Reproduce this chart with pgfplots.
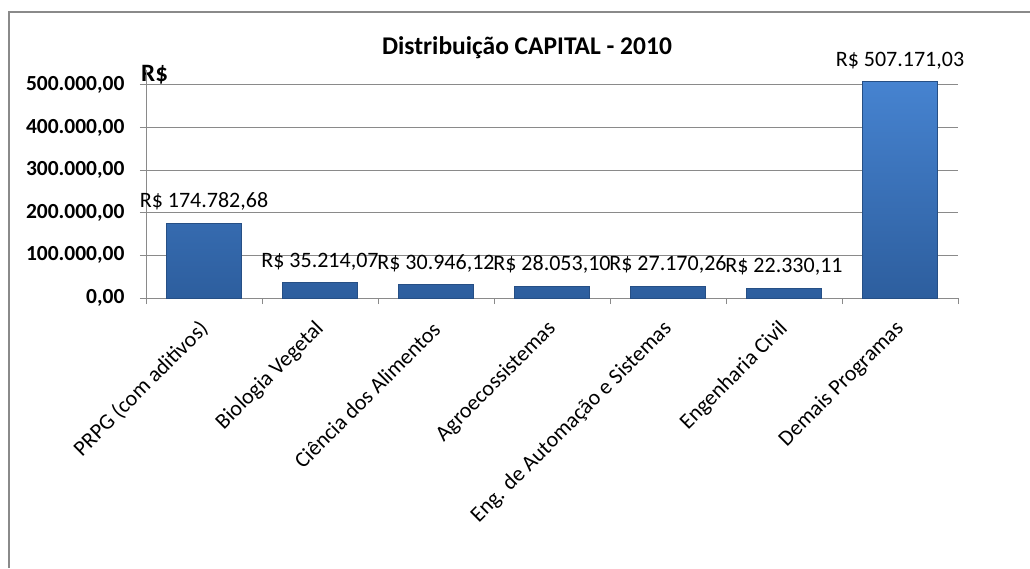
\documentclass[border=0pt]{standalone}
\usepackage{pgfplots}
\pgfplotsset{compat=1.18}
\usepackage{fontspec}
\setmainfont{Carlito}
\definecolor{gridgray}{HTML}{8A8A8A}
\definecolor{bartop}{HTML}{4683D0}
\definecolor{barbot}{HTML}{2D5E9E}
\definecolor{baredge}{HTML}{264F85}
\begin{document}
\begin{tikzpicture}
\useasboundingbox (0,0) rectangle (1030pt,568pt);
\fill[white] (0,0) rectangle (1030pt,568pt);
\draw[gridgray, line width=2pt] (9pt,0) -- (9pt,556pt) -- (1030pt,556pt);
\node[anchor=base, font=\fontsize{25.5}{29}\selectfont\bfseries] at (527pt,513pt) {Distribuição CAPITAL - 2010};
\node[anchor=base west, inner sep=0pt, font=\fontsize{25}{29}\selectfont\bfseries] at (141pt,486pt) {R\$};
\begin{axis}[
  at={(146pt,270pt)}, anchor=south west,
  scale only axis, width=812pt, height=228pt,
  xmin=-0.5, xmax=6.5, ymin=0, ymax=535000,
  axis x line=bottom, axis y line=left,
  axis line style={-, gridgray, line width=1pt},
  ymajorgrids, grid style={gridgray, line width=0.9pt},
  ytick={0,100000,...,500000},
  scaled y ticks=false,
  /pgf/number format/assume math mode=true,
  yticklabel={\pgfmathprintnumber[fixed, fixed zerofill, precision=2, use comma, 1000 sep={.}, assume math mode=true]{\tick}},
  yticklabel style={font=\fontsize{21.5}{24}\selectfont\bfseries, xshift=-12pt},
  tick align=outside,
  major tick length=6pt, minor tick length=6pt,
  tick style={gridgray, line width=1pt},
  xtick={0,1,2,3,4,5,6},
  x tick style={draw=none},
  minor xtick={-0.5,0.5,1.5,2.5,3.5,4.5,5.5,6.5},
  minor x tick style={draw=gridgray, line width=1pt},
  xticklabels={PRPG (com aditivos),Biologia Vegetal,Ciência dos Alimentos,Agroecossistemas,Eng. de Automação e Sistemas,Engenharia Civil,Demais Programas},
  xticklabel style={font=\fontsize{22}{25}\selectfont, yshift=-20pt, xshift=2pt, rotate=45, anchor=east, inner sep=2pt},
  ybar, bar width=0.655,
  nodes near coords,
  point meta=explicit symbolic,
  nodes near coords style={font=\fontsize{22}{25}\selectfont, anchor=south, yshift=9pt, text=black},
  clip=false,
]
\addplot[ybar, draw=baredge, line width=1pt, top color=bartop, bottom color=barbot] coordinates {
  (0,174782.68) [R\$ 174.782,68]
  (1,35214.07) [R\$ 35.214,07]
  (2,30946.12) [R\$ 30.946,12]
  (3,28053.10) [R\$ 28.053,10]
  (4,27170.26) [R\$ 27.170,26]
  (5,22330.11) [R\$ 22.330,11]
  (6,507171.03) [R\$ 507.171,03]
};
\end{axis}
\end{tikzpicture}
\end{document}
